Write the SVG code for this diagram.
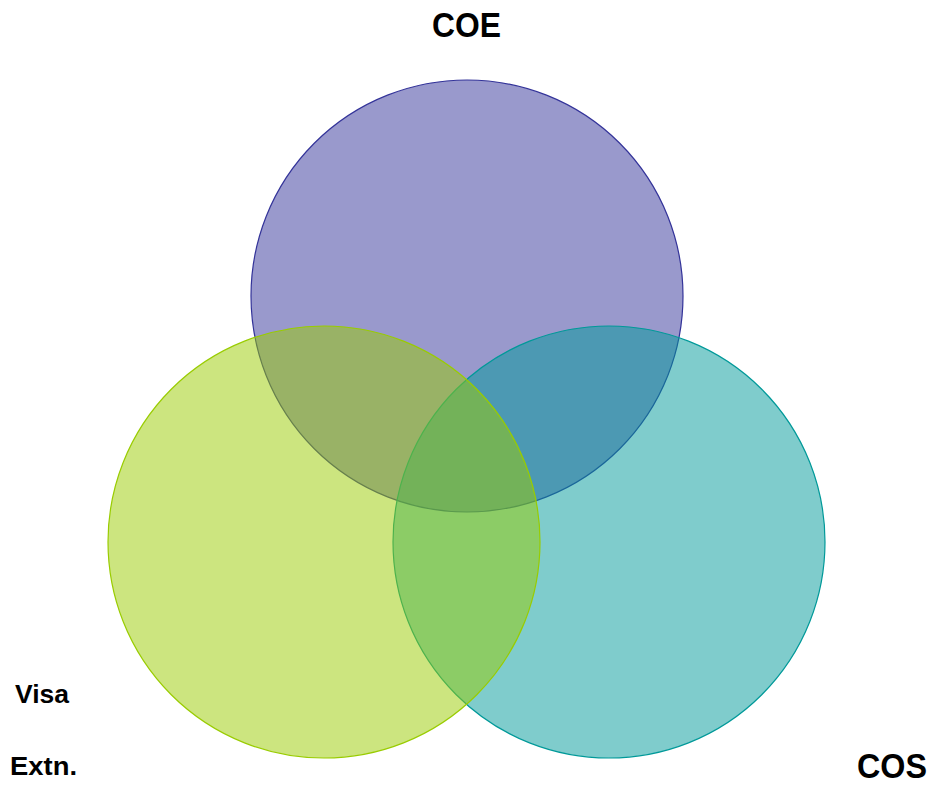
<svg xmlns="http://www.w3.org/2000/svg" width="935" height="789" viewBox="0 0 935 789">
<style>
.c{stroke-width:1.2}
.t{font-family:"Liberation Sans",Arial,sans-serif;font-weight:bold;fill:#000}
</style>
<rect width="935" height="789" fill="#fff"/>
<g id="coe">
<circle class="c" cx="467" cy="296" r="216" fill="#333399" fill-opacity="0.5" stroke="#333399"/>
</g>
<g id="cos">
<circle class="c" cx="609" cy="542" r="216" fill="#009999" fill-opacity="0.5" stroke="#009999"/>
</g>
<g id="visa">
<circle class="c" cx="324" cy="542" r="216" fill="#99CC00" fill-opacity="0.5" stroke="#99CC00"/>
</g>
<g id="labels">
<text class="t" x="432" y="37" font-size="35" textLength="69" lengthAdjust="spacingAndGlyphs">COE</text>
<text class="t" x="857" y="778" font-size="35" textLength="70" lengthAdjust="spacingAndGlyphs">COS</text>
<text class="t" x="15" y="703" font-size="25" textLength="54" lengthAdjust="spacingAndGlyphs">Visa</text>
<text class="t" x="10" y="775" font-size="25" textLength="67" lengthAdjust="spacingAndGlyphs">Extn.</text>
</g>
<g id="connectors"/>
</svg>
